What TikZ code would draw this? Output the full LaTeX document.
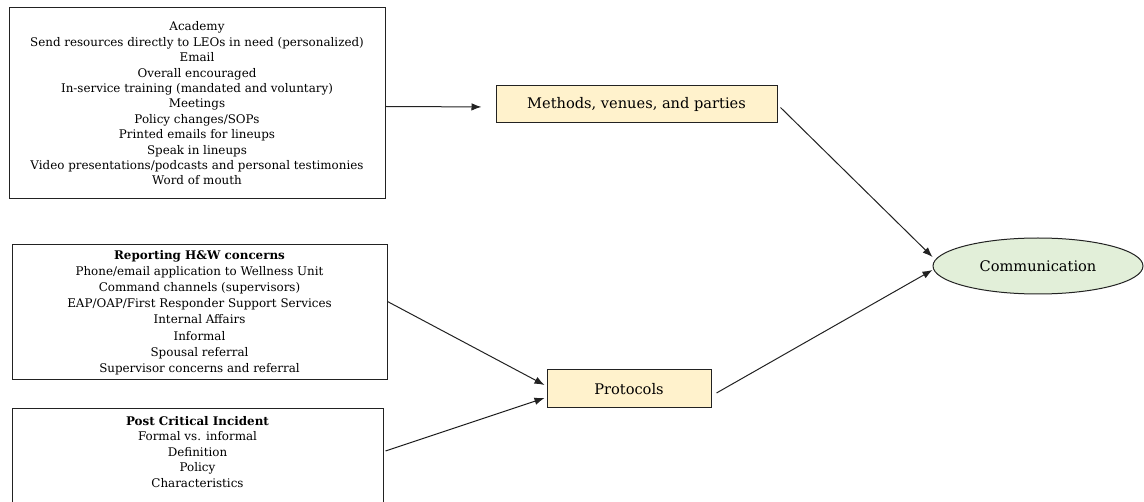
\documentclass[tikz,border=0pt]{standalone}
\usepackage{fontspec}
\setmainfont{DejaVu Serif}
\usepackage{tikz}
\usetikzlibrary{arrows.meta,shapes.geometric}
\definecolor{themefill}{HTML}{FFF2CC}
\definecolor{outcomefill}{HTML}{E2EFD9}
\definecolor{edgegray}{HTML}{222222}
\tikzset{
    listbox/.style={draw=edgegray, line width=1pt, align=center, inner sep=0pt,
        font=\fontsize{11.9}{15.4}\selectfont},
    themebox/.style={draw=edgegray, fill=themefill, line width=1pt, inner sep=0pt,
        font=\fontsize{14.6}{17}\selectfont},
    link/.style={-{Latex[length=10pt,width=7.5pt]}, edgegray, line width=1pt},
}

\begin{document}
\begin{tikzpicture}[x=1pt,y=-1pt]
    \useasboundingbox (0,0) rectangle (1144,502);

    % lists on the left
    \node[listbox, minimum width=376pt, minimum height=191pt] (venuelist) at (197,103.5) {
        Academy\\ Send resources directly to LEOs in need (personalized)\\ Email\\
        Overall encouraged\\ In-service training (mandated and voluntary)\\ Meetings\\
        Policy changes/SOPs\\ Printed emails for lineups\\ Speak in lineups\\
        Video presentations/podcasts and personal testimonies\\ Word of mouth};
    \node[listbox, minimum width=375pt, minimum height=135pt, font=\fontsize{11.9}{16.2}\selectfont] (reportlist) at (199.5,312.5) {
        \textbf{Reporting H\&W concerns}\\ Phone/email application to Wellness Unit\\
        Command channels (supervisors)\\ EAP/OAP/First Responder Support Services\\
        Internal Affairs\\ Informal\\ Spousal referral\\ Supervisor concerns and referral};
    \node[listbox, minimum width=371pt, anchor=north, inner ysep=8pt, text depth=80pt] (incidentlist) at (197.5,408) {
        \textbf{Post Critical Incident}\\ Formal vs. informal\\ Definition\\ Policy\\ Characteristics};

    % themes and outcome
    \node[themebox, minimum width=281pt, minimum height=37pt] (methods) at (636.5,104.5) {Methods, venues, and parties};
    \node[themebox, minimum width=164pt, minimum height=38pt] (protocols) at (629,389) {Protocols};
    \node[ellipse, draw=edgegray, fill=outcomefill, line width=1pt, inner sep=0pt,
        minimum width=210pt, minimum height=56pt, font=\fontsize{14.6}{17}\selectfont] (comm) at (1038,266) {Communication};

    \draw[link, shorten >=14pt] ([yshift=-3pt]venuelist.east) -- ([yshift=-2.5pt]methods.west);
    \draw[link] ([yshift=11pt]reportlist.east) -- ([xshift=-2pt,yshift=4pt]protocols.west);
    \draw[link] ([xshift=2pt,yshift=-43pt]incidentlist.north east) -- ([xshift=-2pt,yshift=-9pt]protocols.west);
    \draw[link] ([xshift=3pt,yshift=-3pt]methods.east) -- ([yshift=9pt]comm.west);
    \draw[link] ([xshift=5pt,yshift=-4pt]protocols.east) -- ([yshift=-4pt]comm.west);
\end{tikzpicture}
\end{document}
